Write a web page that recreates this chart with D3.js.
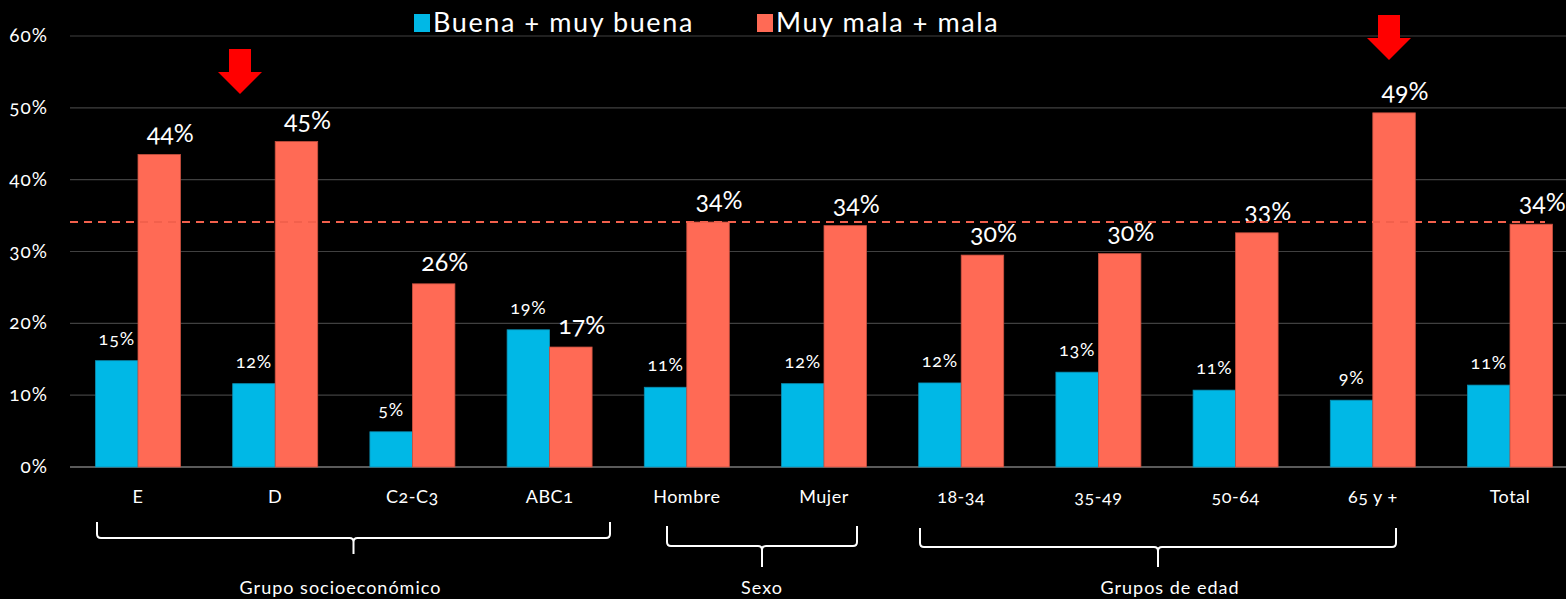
<!DOCTYPE html>
<html>
<head>
<meta charset="utf-8">
<script src="https://cdn.jsdelivr.net/npm/d3@7"></script>
<style>
  html, body { margin: 0; padding: 0; background: #000; }
  svg { display: block; }
  text { font-family: Lato, "Open Sans", sans-serif; fill: #fff; font-variant-numeric: oldstyle-nums; }
</style>
</head>
<body>
<svg id="chart" width="1566" height="599"></svg>
<script>
// categories + values
var categories = ["E", "D", "C2-C3", "ABC1", "Hombre", "Mujer", "18-34", "35-49", "50-64", "65 y +", "Total"];
var buena = [14.8, 11.6, 4.9, 19.1, 11.1, 11.6, 11.7, 13.2, 10.7, 9.3, 11.4];
var mala  = [43.5, 45.3, 25.5, 16.7, 34.1, 33.6, 29.5, 29.7, 32.6, 49.3, 33.8];
var buenaLabels = ["15%", "12%", "5%", "19%", "11%", "12%", "12%", "13%", "11%", "9%", "11%"];
var malaLabels  = ["44%", "45%", "26%", "17%", "34%", "34%", "30%", "30%", "33%", "49%", "34%"];
var yTicks = [0, 10, 20, 30, 40, 50, 60];
var seriesNames = ["Buena + muy buena", "Muy mala + mala"];
var refLine = 34.1;
// groups under the axis: first and last category of each
var groups = [
  {name: "Grupo socioeconómico", from: "E", to: "ABC1"},
  {name: "Sexo", from: "Hombre", to: "Mujer"},
  {name: "Grupos de edad", from: "18-34", to: "65 y +"}
];
var arrowsAt = ["D", "65 y +"];

var blue = "#00b8e6", salmon = "#ff6a55";

var svg = d3.select("#chart");
var plotL = 70, plotR = 1566, plotT = 36, plotB = 467;

// band step is a bit wider than the visible area (last band runs off the right edge)
var x = d3.scaleBand().domain(categories).range([69.4, 1578.6]).paddingInner(0).paddingOuter(0);
var barW = 42.5;
var y = d3.scaleLinear().domain([0, 60]).range([plotB, plotT]);

// gridlines
svg.append("g").selectAll("line")
  .data(yTicks).enter().append("line")
  .attr("x1", plotL).attr("x2", plotR)
  .attr("y1", function(d) { return y(d); }).attr("y2", function(d) { return y(d); })
  .attr("stroke", function(d) { return d === 0 ? "#5a5a5a" : "#404040"; })
  .attr("stroke-width", function(d) { return d === 0 ? 2 : 1.2; });

// y axis labels
svg.append("g").selectAll("text")
  .data(yTicks).enter().append("text")
  .attr("x", 48).attr("y", function(d) { return y(d) + 6; })
  .attr("text-anchor", "end").style("font-size", "19px").style("letter-spacing", "1px")
  .text(function(d) { return d + "%"; });

var cx = function(c) { return x(c) + x.bandwidth() / 2; };

// bars
var g = svg.append("g");
g.selectAll("rect.b").data(categories).enter().append("rect")
  .attr("x", function(c) { return cx(c) - barW; })
  .attr("y", function(c, i) { return y(buena[i]); })
  .attr("width", barW)
  .attr("height", function(c, i) { return y(0) - y(buena[i]); })
  .attr("fill", blue).attr("stroke", "#0a8fb3").attr("stroke-width", 0.8);
g.selectAll("rect.m").data(categories).enter().append("rect")
  .attr("x", function(c) { return cx(c); })
  .attr("y", function(c, i) { return y(mala[i]); })
  .attr("width", barW)
  .attr("height", function(c, i) { return y(0) - y(mala[i]); })
  .attr("fill", salmon).attr("stroke", "#c9503f").attr("stroke-width", 0.8);

// reference dashed line
svg.append("line")
  .attr("x1", plotL).attr("x2", 1545)
  .attr("y1", y(refLine)).attr("y2", y(refLine))
  .attr("stroke", "#f2604c").attr("stroke-width", 2)
  .attr("stroke-dasharray", "8,6");

// value labels
g.selectAll("text.b").data(categories).enter().append("text")
  .attr("x", function(c) { return cx(c) - barW / 2; })
  .attr("y", function(c, i) { return y(buena[i]) - 16; })
  .attr("text-anchor", "middle").style("font-size", "18px").style("letter-spacing", "0.8px")
  .text(function(c, i) { return buenaLabels[i]; });
g.selectAll("text.m").data(categories).enter().append("text")
  .attr("x", function(c) { return cx(c) + barW / 2 + 11; })
  .attr("y", function(c, i) { return y(mala[i]) - 13; })
  .attr("text-anchor", "middle").style("font-size", "25px")
  .text(function(c, i) { return malaLabels[i]; });

// category labels
svg.append("g").selectAll("text")
  .data(categories).enter().append("text")
  .attr("x", cx).attr("y", 503)
  .attr("text-anchor", "middle").style("font-size", "18px").style("letter-spacing", "0.5px")
  .text(function(c) { return c; });

// group brackets
var bracketY = [[522, 538, 554], [526, 546, 567], [528, 547, 567]];
var bx = [[97, 610], [667, 857], [920, 1396]];
var nameDx = [-13, 0, 12];
groups.forEach(function(gr, i) {
  var x0 = bx[i][0], x1 = bx[i][1];
  var t = bracketY[i][0], h = bracketY[i][1], tip = bracketY[i][2];
  var m = (x0 + x1) / 2, r = 4;
  var p = d3.path();
  p.moveTo(x0, t); p.lineTo(x0, h - r); p.quadraticCurveTo(x0, h, x0 + r, h);
  p.lineTo(m - r, h); p.quadraticCurveTo(m, h, m, h + r); p.lineTo(m, tip);
  p.moveTo(m, h + r); p.quadraticCurveTo(m, h, m + r, h);
  p.lineTo(x1 - r, h); p.quadraticCurveTo(x1, h, x1, h - r); p.lineTo(x1, t);
  svg.append("path").attr("d", p.toString())
    .attr("fill", "none").attr("stroke", "#fff").attr("stroke-width", 2);
  svg.append("text").attr("x", m + nameDx[i]).attr("y", 594)
    .attr("text-anchor", "middle").style("font-size", "18px").style("letter-spacing", "1px").text(gr.name);
});

// red arrows
var arrowTop = [49, 15], arrowDx = [-35, 16];
arrowsAt.forEach(function(c, i) {
  var ax = Math.round(cx(c) + arrowDx[i]), at = arrowTop[i];
  var pts = [[ax - 11, at], [ax + 11, at], [ax + 11, at + 23], [ax + 22, at + 23],
             [ax, at + 45], [ax - 22, at + 23], [ax - 11, at + 23]];
  svg.append("path").attr("d", d3.line()(pts) + "Z").attr("fill", "#ff0000");
});

// legend
var legX = [414, 757];
seriesNames.forEach(function(s, i) {
  svg.append("rect").attr("x", legX[i]).attr("y", 14).attr("width", 16).attr("height", 18)
    .attr("fill", i === 0 ? blue : salmon);
  svg.append("text").attr("x", legX[i] + 19).attr("y", 32)
    .style("font-size", "27px").style("letter-spacing", "1.6px").text(s);
});
</script>
</body>
</html>
